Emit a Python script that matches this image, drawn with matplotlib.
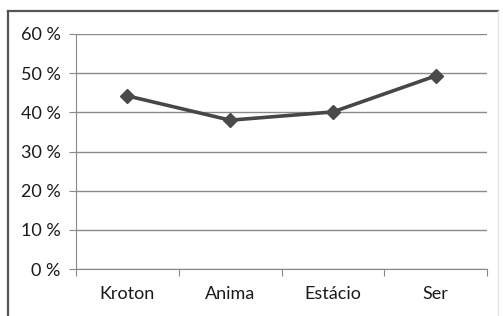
import matplotlib
matplotlib.use("Agg")
import matplotlib.pyplot as plt
from matplotlib.lines import Line2D

categories = ["Kroton", "Anima", "Estácio", "Ser"]
values = [44.2, 38.0, 40.1, 49.3]
yticks = [0, 10, 20, 30, 40, 50, 60]
ytick_labels = ["0 %", "10 %", "20 %", "30 %", "40 %", "50 %", "60 %"]

plt.rcParams['font.family'] = ['Lato', 'DejaVu Sans']

W, H = 503, 316
fig = plt.figure(figsize=(W/100, H/100), dpi=100)
fig.patch.set_facecolor("white")

# outer frame
fig.add_artist(Line2D([8/W, 8/W], [0, 1-11/H], transform=fig.transFigure, color="#555555", lw=1.6))
fig.add_artist(Line2D([8/W, 498/W], [1-11/H, 1-11/H], transform=fig.transFigure, color="#555555", lw=1.6))
fig.add_artist(Line2D([498/W, 498/W], [0, 1-11/H], transform=fig.transFigure, color="#e6e6e6", lw=1.0))

ax = fig.add_axes([76/W, 1-269/H, (487-76)/W, (269-34)/H])
x = list(range(len(categories)))
ax.plot(x, values, color="#474747", lw=2.6, marker="D", markersize=7.5,
        markerfacecolor="#4a4a4a", markeredgecolor="#4a4a4a", zorder=3)

ax.set_xlim(-0.5, len(categories)-0.5)
ax.set_ylim(0, 60)
ax.set_yticks(yticks)
ax.set_yticklabels(ytick_labels, fontsize=13, color="#1a1a1a")
ax.yaxis.grid(True, color="#8a8a8a", lw=1.0)
ax.set_axisbelow(True)

ax.set_xticks([i - 0.5 for i in range(len(categories)+1)])
ax.set_xticklabels([])
ax.set_xticks(x, minor=True)
ax.set_xticklabels(categories, minor=True, fontsize=13, color="#1a1a1a")
ax.tick_params(axis="x", which="minor", length=0, pad=12)
ax.tick_params(axis="x", which="major", length=5, color="#8a8a8a", direction="out")
ax.tick_params(axis="y", length=5, color="#8a8a8a", pad=6)

for s in ["top", "right"]:
    ax.spines[s].set_visible(False)
ax.spines["left"].set_color("#8a8a8a")
ax.spines["bottom"].set_color("#8a8a8a")

fig.savefig("out.png", dpi=100)
